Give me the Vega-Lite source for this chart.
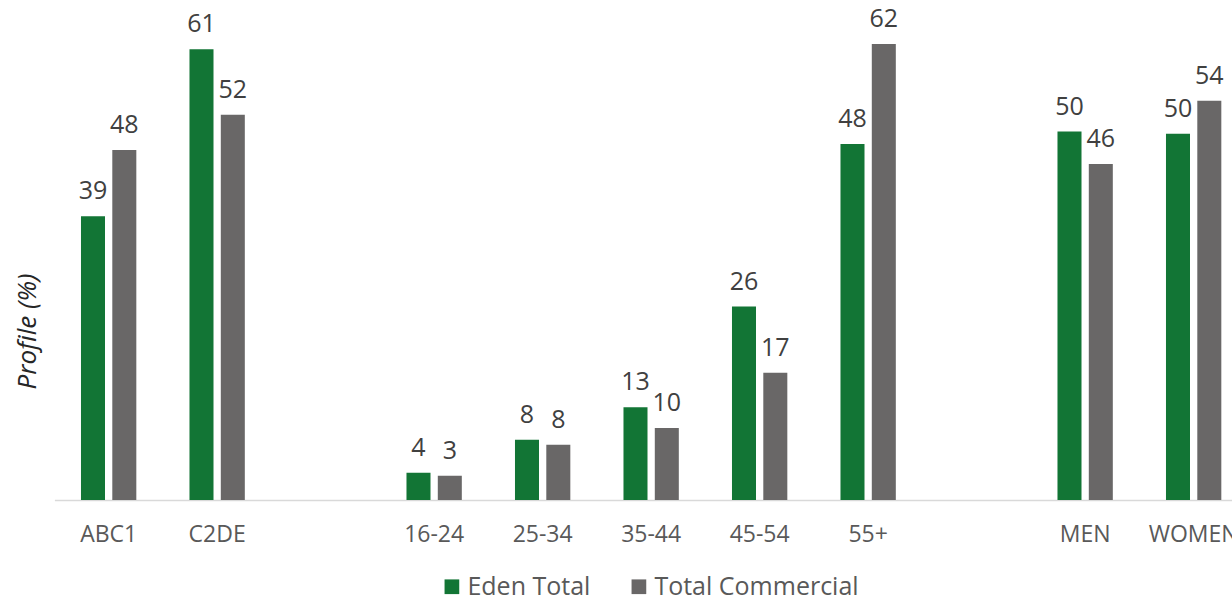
{
  "$schema": "https://vega.github.io/schema/vega-lite/v6.json",
  "width": 1177.6,
  "height": 500,
  "autosize": {"type": "none"},
  "padding": {"left": 54.4, "top": 0, "right": 0, "bottom": 101},
  "background": "white",
  "config": {"view": {"stroke": null}, "font": "Open Sans"},
  "data": {
    "values": [
      {"group": "ABC1", "series": "Eden Total", "value": 38.6, "label": "39"},
      {"group": "ABC1", "series": "Total Commercial", "value": 47.6, "label": "48"},
      {"group": "C2DE", "series": "Eden Total", "value": 61.3, "label": "61"},
      {"group": "C2DE", "series": "Total Commercial", "value": 52.4, "label": "52"},
      {"group": "16-24", "series": "Eden Total", "value": 3.7, "label": "4"},
      {"group": "16-24", "series": "Total Commercial", "value": 3.3, "label": "3"},
      {"group": "25-34", "series": "Eden Total", "value": 8.2, "label": "8"},
      {"group": "25-34", "series": "Total Commercial", "value": 7.5, "label": "8"},
      {"group": "35-44", "series": "Eden Total", "value": 12.6, "label": "13"},
      {"group": "35-44", "series": "Total Commercial", "value": 9.8, "label": "10"},
      {"group": "45-54", "series": "Eden Total", "value": 26.3, "label": "26"},
      {"group": "45-54", "series": "Total Commercial", "value": 17.3, "label": "17"},
      {"group": "55+", "series": "Eden Total", "value": 48.4, "label": "48"},
      {"group": "55+", "series": "Total Commercial", "value": 62.0, "label": "62"},
      {"group": "MEN", "series": "Eden Total", "value": 50.1, "label": "50"},
      {"group": "MEN", "series": "Total Commercial", "value": 45.7, "label": "46"},
      {"group": "WOMEN", "series": "Eden Total", "value": 49.8, "label": "50"},
      {"group": "WOMEN", "series": "Total Commercial", "value": 54.3, "label": "54"}
    ]
  },
  "encoding": {
    "x": {
      "field": "group",
      "type": "nominal",
      "scale": {
        "domain": ["ABC1", "C2DE", " ", "16-24", "25-34", "35-44", "45-54", "55+", "  ", "MEN", "WOMEN"],
        "range": [0, 1193.5],
        "paddingInner": 0.49,
        "paddingOuter": 0.245
      },
      "axis": {
        "title": null,
        "labelAngle": 0,
        "labelFontSize": 23,
        "labelColor": "#595959",
        "labelFont": "Open Sans",
        "ticks": false,
        "tickSize": 0,
        "labelPadding": 23,
        "domainColor": "#d9d9d9",
        "domainWidth": 1.5,
        "grid": false
      }
    },
    "xOffset": {
      "field": "series",
      "type": "nominal",
      "scale": {"domain": ["Eden Total", "Total Commercial"], "paddingInner": 0.233, "paddingOuter": 0}
    },
    "y": {
      "field": "value",
      "type": "quantitative",
      "scale": {"domain": [0, 68], "nice": false, "zero": true},
      "axis": {
        "title": "Profile (%)",
        "titleFont": "Open Sans",
        "titleFontStyle": "italic",
        "titleFontWeight": "normal",
        "titleFontSize": 26,
        "titleColor": "#262626",
        "titleAngle": -90,
        "titleAlign": "center",
        "titleBaseline": "middle",
        "titleX": -27,
        "titleY": 331,
        "labels": false,
        "ticks": false,
        "domain": false,
        "grid": false
      }
    }
  },
  "layer": [
    {
      "mark": {"type": "bar"},
      "encoding": {
        "color": {
          "field": "series",
          "type": "nominal",
          "scale": {"domain": ["Eden Total", "Total Commercial"], "range": ["#127535", "#696767"]},
          "legend": {
            "orient": "none",
            "legendX": 385,
            "legendY": 574,
            "direction": "horizontal",
            "columns": 2,
            "title": null,
            "symbolType": "square",
            "symbolSize": 216,
            "symbolStrokeWidth": 0,
            "labelFontSize": 25,
            "labelFont": "Open Sans",
            "labelColor": "#595959",
            "labelOffset": 3,
            "labelLimit": 500,
            "columnPadding": 36,
            "padding": 0
          }
        }
      }
    },
    {
      "mark": {"type": "text", "baseline": "alphabetic", "dy": -17, "fontSize": 25, "color": "#404040", "font": "Open Sans"},
      "encoding": {"text": {"field": "label", "type": "nominal"}}
    }
  ]
}
